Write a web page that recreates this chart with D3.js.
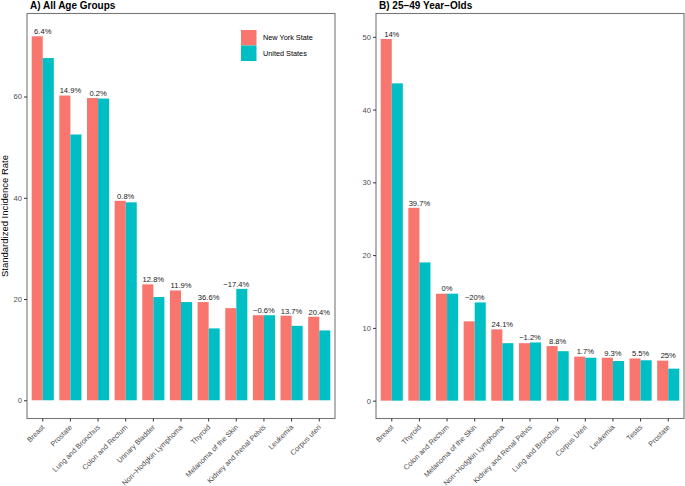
<!DOCTYPE html>
<html>
<head>
<meta charset="utf-8">
<script src="https://cdn.jsdelivr.net/npm/d3@7"></script>
<style>
  body { margin: 0; background: #fff; }
  svg { font-family: "Liberation Sans", Arial, sans-serif; }
</style>
</head>
<body>
<div id="chart"></div>
<script>
// panel A: all age groups
var catsA = ["Breast", "Prostate", "Lung and Bronchus", "Colon and Rectum", "Urinary Bladder",
  "Non\u2212Hodgkin Lymphoma", "Thyroid", "Melanoma of the Skin", "Kidney and Renal Pelvis",
  "Leukemia", "Corpus uteri"];
var nyA = [71.9, 60.2, 59.7, 39.4, 22.9, 21.7, 19.4, 18.2, 16.8, 16.7, 16.5];
var usA = [67.6, 52.5, 59.6, 39.1, 20.4, 19.4, 14.2, 22.0, 16.8, 14.7, 13.8];
var labA = ["6.4%", "14.9%", "0.2%", "0.8%", "12.8%", "11.9%", "36.6%", "\u221217.4%",
  "\u22120.6%", "13.7%", "20.4%"];
var ticksA = [0, 20, 40, 60];

// panel B: 25-49 year olds
var catsB = ["Breast", "Thyroid", "Colon and Rectum", "Melanoma of the Skin",
  "Non\u2212Hodgkin Lymphoma", "Kidney and Renal Pelvis", "Lung and Bronchus",
  "Corpus Uteri", "Leukemia", "Testis", "Prostate"];
var nyB = [49.7, 26.5, 14.7, 10.9, 9.8, 7.9, 7.5, 6.05, 5.9, 5.8, 5.5];
var usB = [43.6, 19.0, 14.7, 13.5, 7.9, 8.0, 6.8, 5.9, 5.45, 5.55, 4.4];
var labB = ["14%", "39.7%", "0%", "\u221220%", "24.1%", "\u22121.2%", "8.8%", "1.7%",
  "9.3%", "5.5%", "25%"];
var ticksB = [0, 10, 20, 30, 40, 50];

var series = ["New York State", "United States"];
var colors = ["#F8766D", "#00BFC4"];

var W = 685, H = 486;
var yTop = 13.5, yBottom = 418.5;

var svg = d3.select("#chart").append("svg")
  .attr("width", W).attr("height", H);

svg.append("rect").attr("width", W).attr("height", H).attr("fill", "#fff");

function panel(cats, ny, us, labs, ticks, x0, x1, ymin, ymax, title) {
  var g = svg.append("g");

  var x = d3.scaleBand().domain(cats).range([x0, x1]).paddingInner(0).paddingOuter(0.07);
  var y = d3.scaleLinear().domain([ymin, ymax]).range([yBottom, yTop]);
  var bw = x.step() * 0.8;

  var rows = cats.map(function(c, i) { return { cat: c, vals: [ny[i], us[i]], lab: labs[i] }; });

  // bars
  rows.forEach(function(r) {
    g.selectAll(null).data(r.vals).enter().append("rect")
      .attr("x", function(d, j) { return x(r.cat) + x.bandwidth() / 2 - bw / 2 + j * bw / 2; })
      .attr("y", function(d) { return y(d); })
      .attr("width", bw / 2)
      .attr("height", function(d) { return y(0) - y(d); })
      .attr("fill", function(d, j) { return colors[j]; });
  });

  // percent labels
  g.selectAll(".lab").data(rows).enter().append("text")
    .attr("x", function(d) { return x(d.cat) + x.bandwidth() / 2; })
    .attr("y", function(d) { return y(d3.max(d.vals)) - 2.2; })
    .attr("text-anchor", "middle")
    .attr("font-size", "7.6px")
    .attr("fill", "#1a1a1a")
    .text(function(d) { return d.lab; });

  // border
  g.append("rect")
    .attr("x", x0).attr("y", yTop)
    .attr("width", x1 - x0).attr("height", yBottom - yTop)
    .attr("fill", "none").attr("stroke", "#777").attr("stroke-width", 1.1);

  // y axis
  var ya = g.append("g").attr("transform", "translate(" + x0 + ",0)")
    .call(d3.axisLeft(y).tickValues(ticks).tickSize(3).tickPadding(2));
  ya.select(".domain").remove();
  ya.selectAll("line").attr("stroke", "#333");
  ya.selectAll("text").attr("font-size", "7.6px").attr("fill", "#4d4d4d")
    .attr("font-family", "Liberation Sans, Arial, sans-serif");

  // x axis
  var xa = g.append("g").attr("transform", "translate(0," + yBottom + ")")
    .call(d3.axisBottom(x).tickSize(3).tickFormat(""));
  xa.select(".domain").remove();
  xa.selectAll("line").attr("stroke", "#333");

  g.selectAll(".xl").data(cats).enter().append("text")
    .attr("transform", function(d) {
      return "translate(" + (x(d) + x.bandwidth() / 2 - 1.5) + "," + (yBottom + 5.5) + ") rotate(-45)";
    })
    .attr("dy", "0.72em")
    .attr("text-anchor", "end")
    .attr("font-size", "7.3px")
    .attr("fill", "#4d4d4d")
    .text(function(d) { return d; });

  // title
  g.append("text")
    .attr("x", x0 + 3).attr("y", 9)
    .attr("font-size", "10px").attr("font-weight", "bold")
    .attr("fill", "#000")
    .text(title);

  return g;
}

panel(catsA, nyA, usA, labA, ticksA, 27, 335, -3.6, 76.4, "A) All Age Groups");
panel(catsB, nyB, usB, labB, ticksB, 376, 684, -2.45, 53.2, "B) 25\u221249 Year\u2212Olds");

// y label
svg.append("text")
  .attr("transform", "translate(8," + ((yTop + yBottom) / 2) + ") rotate(-90)")
  .attr("text-anchor", "middle")
  .attr("font-size", "9.5px")
  .attr("fill", "#000")
  .text("Standardized Incidence Rate");

// legend
var leg = svg.append("g").attr("transform", "translate(241,30)");
leg.selectAll("rect").data(series).enter().append("rect")
  .attr("x", 0).attr("y", function(d, i) { return i * 15.5; })
  .attr("width", 15.5).attr("height", 15.5)
  .attr("fill", function(d, i) { return colors[i]; });
leg.selectAll("text").data(series).enter().append("text")
  .attr("x", 22).attr("y", function(d, i) { return i * 15.5 + 7.75; })
  .attr("dy", "0.35em")
  .attr("font-size", "7.3px")
  .attr("fill", "#000")
  .text(function(d) { return d; });
</script>
</body>
</html>
